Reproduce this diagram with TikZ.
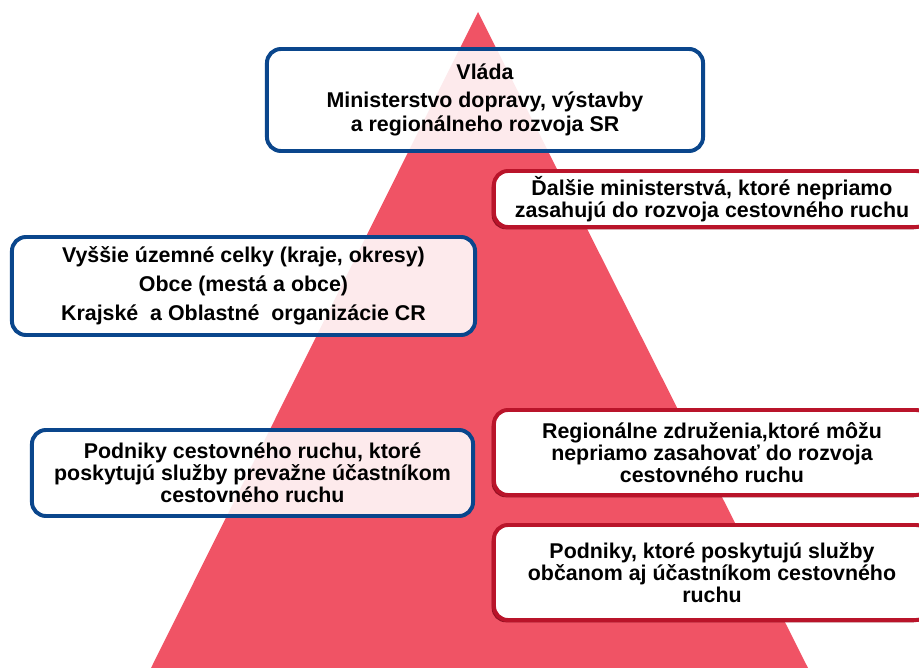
\documentclass[tikz,border=0pt]{standalone}
\usepackage{fontspec}
\setmainfont{Liberation Sans}
\usepackage{xcolor}
\usetikzlibrary{shadows}
\definecolor{pyramid}{RGB}{240,83,101}
\definecolor{govblue}{RGB}{10,70,140}
\definecolor{indred}{RGB}{185,20,42}

\begin{document}
\begin{tikzpicture}[x=0.025cm, y=-0.025cm,
    level/.style={rectangle, rounded corners=0.35cm, line width=2.8pt, align=center, inner sep=0pt,
        font=\fontsize{15.2}{15.8}\selectfont\bfseries},
    direct/.style={level, draw=govblue, fill=white, fill opacity=0.88, text opacity=1},
    indirect/.style={level, draw=indred, fill=white, minimum width=10.9cm,
        drop shadow={shadow xshift=-1.6pt, shadow yshift=-1.6pt, fill=indred!80!black, opacity=1}}
]
    \useasboundingbox (0,0) rectangle (919,668);
    \clip (0,0) rectangle (919,668);
    % pyramid
    \fill[pyramid] (478,12) -- (151,668) -- (808,668) -- cycle;
    % direct actors
    \node[direct, minimum width=10.9cm, minimum height=2.55cm] (vlada) at (485,100) {
        Vláda \\[4pt]
        Ministerstvo dopravy, výstavby \\[1pt]
        a regionálneho rozvoja SR
    };
    \node[direct, minimum width=11.575cm, minimum height=2.45cm] (kraje) at (243.5,286) {
        Vyššie územné celky (kraje, okresy) \\[5pt]
        Obce (mestá a obce) \\[5pt]
        Krajské\ \ a Oblastné\ \ organizácie CR
    };
    \node[direct, minimum width=11.025cm, minimum height=2.15cm] (podnikycr) at (252.5,473) {
        Podniky cestovného ruchu, ktoré \\
        poskytujú služby prevažne účastníkom \\
        cestovného ruchu
    };
    % indirect actors
    \node[indirect, minimum height=1.4cm] (ministerstva) at (712,199) {
        Ďalšie ministerstvá, ktoré nepriamo \\
        zasahujú do rozvoja cestovného ruchu
    };
    \node[indirect, minimum height=2.125cm] (zdruzenia) at (712,452.5) {
        Regionálne združenia,ktoré môžu \\
        nepriamo zasahovať do rozvoja \\
        cestovného ruchu
    };
    \node[indirect, minimum height=2.375cm] (podniky) at (712,572.5) {
        Podniky, ktoré poskytujú služby \\
        občanom aj účastníkom cestovného \\
        ruchu
    };
\end{tikzpicture}
\end{document}
